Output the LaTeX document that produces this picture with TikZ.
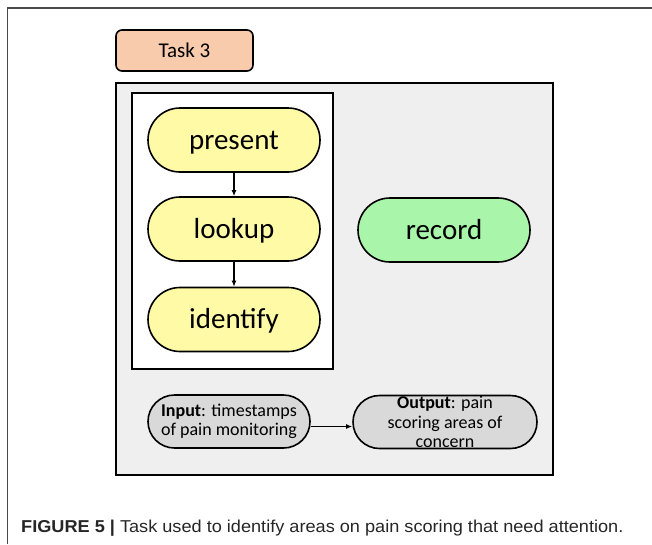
\documentclass[tikz,border=0pt]{standalone}
\usepackage{fontspec}
\setmainfont{Carlito}
\newfontfamily\capfont{Liberation Sans}
\usetikzlibrary{arrows.meta}
\definecolor{taskfill}{HTML}{F8CBAD}
\definecolor{panelfill}{HTML}{EFEFEF}
\definecolor{stepfill}{HTML}{FFFAA6}
\definecolor{recfill}{HTML}{A9F5A9}
\definecolor{iofill}{HTML}{D9D9D9}
\definecolor{framegray}{HTML}{4A4A4A}
\tikzset{
  pill/.style={draw=black, line width=1.6pt, rounded corners=#1, inner sep=0pt, align=center},
  stepnode/.style={pill=32pt, fill=stepfill, minimum width=172pt, minimum height=64pt,
    text height=18pt, text depth=0pt, font=\fontsize{29}{34}\selectfont},
  ionode/.style={pill=26.5pt, fill=iofill, minimum height=53pt,
    font=\fontsize{18}{19.5}\selectfont},
  flow/.style={-{Latex[length=6pt,width=5pt]}, line width=1.3pt},
}
\begin{document}
\begin{tikzpicture}[x=1pt,y=-1pt]
\useasboundingbox (0,0) rectangle (652,544);
% page frame
\draw[framegray, line width=1.8pt] (7.5,544) -- (7.5,8) -- (652,8);
% task label
\node[draw=black, line width=1.6pt, rounded corners=6pt, fill=taskfill,
  minimum width=137pt, minimum height=41pt, font=\fontsize{21}{25}\selectfont]
  (task) at (184.5,50.5) {Task 3};
% task panel
\node[draw=black, line width=2pt, fill=panelfill, minimum width=437pt,
  minimum height=392pt, inner sep=0pt] (panel) at (334.5,278.5) {};
\node[draw=black, line width=1.8pt, fill=white, minimum width=201pt,
  minimum height=276pt, inner sep=0pt] (seq) at (232.5,231) {};
% steps
\node[stepnode] (present) at (234,140) {present};
\node[stepnode] (lookup) at (234,229) {lookup};
\node[stepnode] (identify) at (234,319.5) {identify};
\node[stepnode, fill=recfill] (record) at (444,230) {record};
\draw[flow] (present) -- (lookup);
\draw[flow] (lookup) -- (identify);
% input and output
\node[ionode, minimum width=162pt] (input) at (229,421.5)
  {\textbf{Input}: timestamps\\of pain monitoring};
\node[ionode, minimum width=184pt] (output) at (445,422)
  {\textbf{Output}: pain\\scoring areas of\\concern};
\draw[flow] (input.east) ++(0,5) coordinate (a) -- (a -| output.west);
% caption
\node[anchor=west, inner sep=0pt, text=black!85]
  (caption) at (21,528) {\capfont\fontsize{17.2}{20}\selectfont\scalebox{1.055}[1]{\textbf{FIGURE 5 |} Task used to identify areas on pain scoring that need attention.}};
\end{tikzpicture}
\end{document}
